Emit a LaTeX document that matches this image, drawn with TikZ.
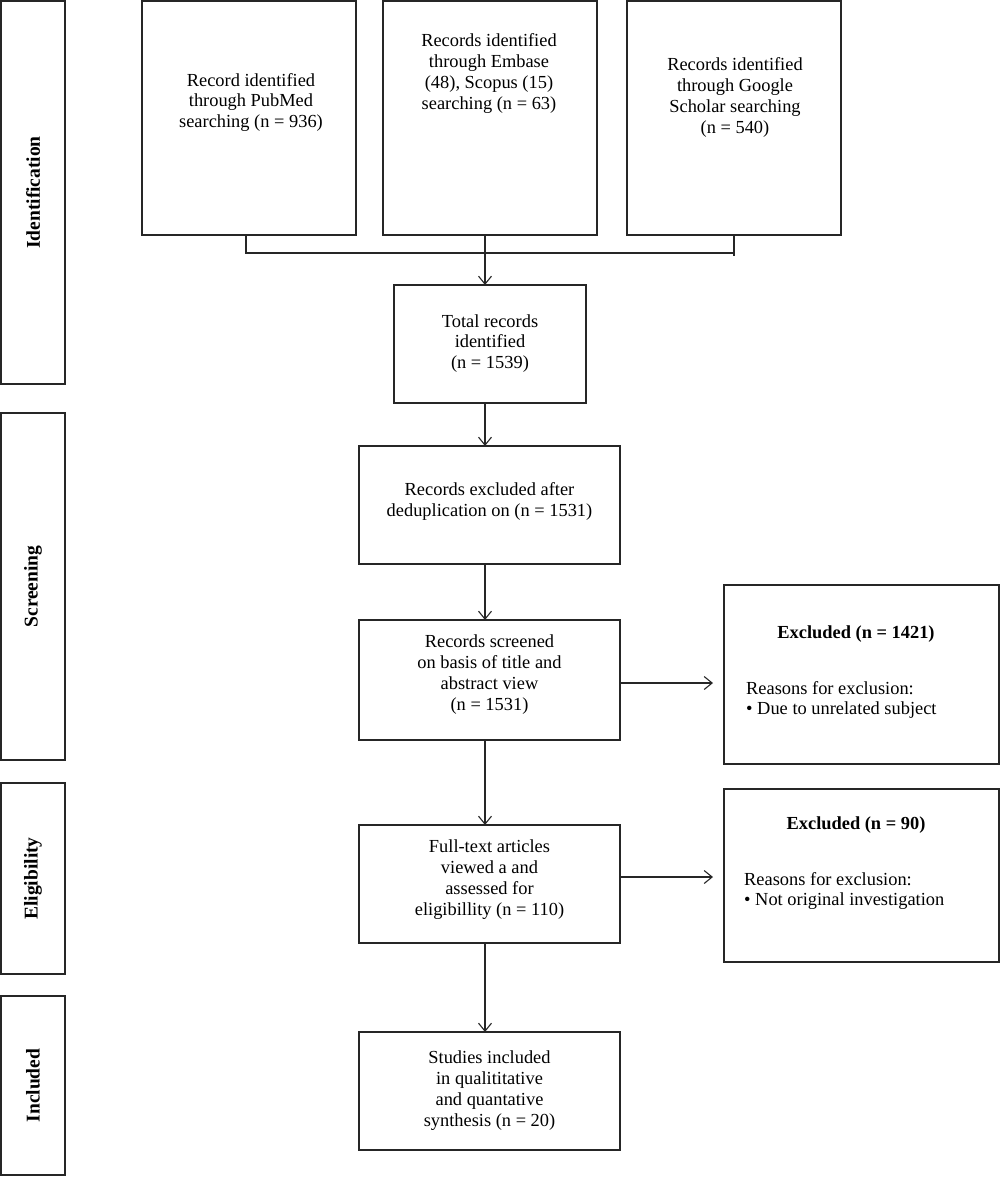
\documentclass[tikz,border=0pt]{standalone}
\usepackage{fontspec}
\setmainfont{Liberation Serif}
\usetikzlibrary{arrows.meta}
\begin{document}
\begin{tikzpicture}[x=1pt,y=-1pt,
  box/.style={draw=black!85, line width=1.3pt, inner sep=0pt, outer sep=0pt},
  txt/.style={inner sep=0pt, align=center, font=\fontsize{18.4}{20.8}\selectfont},
  side/.style={draw=black!85, line width=1.3pt, inner sep=0pt, outer sep=0pt, rotate=90,
    font=\fontsize{19.5}{22}\selectfont\bfseries},
  conn/.style={draw=black!85, line width=1.1pt},
  arr/.style={conn, -{Straight Barb[length=8pt,width=13pt,line width=1.1pt]}}
]
\useasboundingbox (0,0) rectangle (1000,1178);
% side labels
\node[side, minimum width=383pt, minimum height=64pt] (sid) at (33,192.5) {Identification};
\node[side, minimum width=347pt, minimum height=64pt] (ssc) at (33,586.5) {Screening};
\node[side, minimum width=191pt, minimum height=64pt] (sel) at (33,878.5) {Eligibility};
\node[side, minimum width=179pt, minimum height=64pt] (sin) at (33,1085.5) {Included};
% top boxes
\node[box, minimum width=214pt, minimum height=234pt] (pub) at (249,118) {};
\node[txt] (pubt) at (251,102.5) {Record identified\\through PubMed\\searching (n = 936)};
\node[box, minimum width=214pt, minimum height=234pt] (emb) at (490,118) {};
\node[txt] (embt) at (489,73.5) {Records identified\\through Embase\\(48), Scopus (15)\\searching (n = 63)};
\node[box, minimum width=214pt, minimum height=234pt] (goo) at (734,118) {};
\node[txt] (goot) at (735,97.5) {Records identified\\through Google\\Scholar searching\\(n = 540)};
% main column
\node[box, minimum width=192pt, minimum height=118pt] (tot) at (490,344) {};
\node[txt] (tott) at (490,343.5) {Total records\\identified\\(n = 1539)};
\node[box, minimum width=261pt, minimum height=118pt] (ded) at (489.5,505) {};
\node[txt] (dedt) at (489.5,501.5) {Records excluded after\\deduplication on (n = 1531)};
\node[box, minimum width=261pt, minimum height=120pt] (scr) at (489.5,680) {};
\node[txt] (scrt) at (489.5,674.5) {Records screened\\on basis of title and\\abstract view\\(n = 1531)};
\node[box, minimum width=261pt, minimum height=118pt] (ful) at (489.5,884) {};
\node[txt] (fult) at (489.5,879.5) {Full-text articles\\viewed a and\\assessed for\\eligibillity (n = 110)};
\node[box, minimum width=261pt, minimum height=118pt] (stu) at (489.5,1091) {};
\node[txt] (stut) at (489.5,1090.5) {Studies included\\in qualititative\\and quantative\\synthesis (n = 20)};
% excluded boxes
\node[box, minimum width=275pt, minimum height=179pt] (ex1) at (861.5,674.5) {};
\node[txt, font=\fontsize{18.4}{20.8}\selectfont\bfseries] (ex1t) at (856,634) {Excluded (n = 1421)};
\node[txt, align=left, anchor=west] (ex1r) at (746,700) {Reasons for exclusion:\\\textbullet\ Due to unrelated subject};
\node[box, minimum width=275pt, minimum height=173pt] (ex2) at (861.5,875.5) {};
\node[txt, font=\fontsize{18.4}{20.8}\selectfont\bfseries] (ex2t) at (856,825) {Excluded (n = 90)};
\node[txt, align=left, anchor=west] (ex2r) at (744,891) {Reasons for exclusion:\\\textbullet\ Not original investigation};
% connectors
\coordinate (j1) at (246,253);
\coordinate (j3) at (734,253);
\coordinate (jm) at (485,253);
\draw[conn] (pub.south -| j1) -- (j1) -- (j3) -- ++(0,3);
\draw[conn] (goo.south -| j3) -- (j3);
\draw[conn] (emb.south -| jm) -- (jm);
\draw[arr] (jm) -- (tot.north -| jm);
\draw[arr] (tot.south -| jm) -- (ded.north -| jm);
\draw[arr] (ded.south -| jm) -- (scr.north -| jm);
\draw[arr] (scr.south -| jm) -- (ful.north -| jm);
\draw[arr] (ful.south -| jm) -- (stu.north -| jm);
\coordinate (a1) at (713,683);
\coordinate (a2) at (713,877);
\draw[arr] (scr.east |- a1) -- (a1);
\draw[arr] (ful.east |- a2) -- (a2);
\end{tikzpicture}
\end{document}
